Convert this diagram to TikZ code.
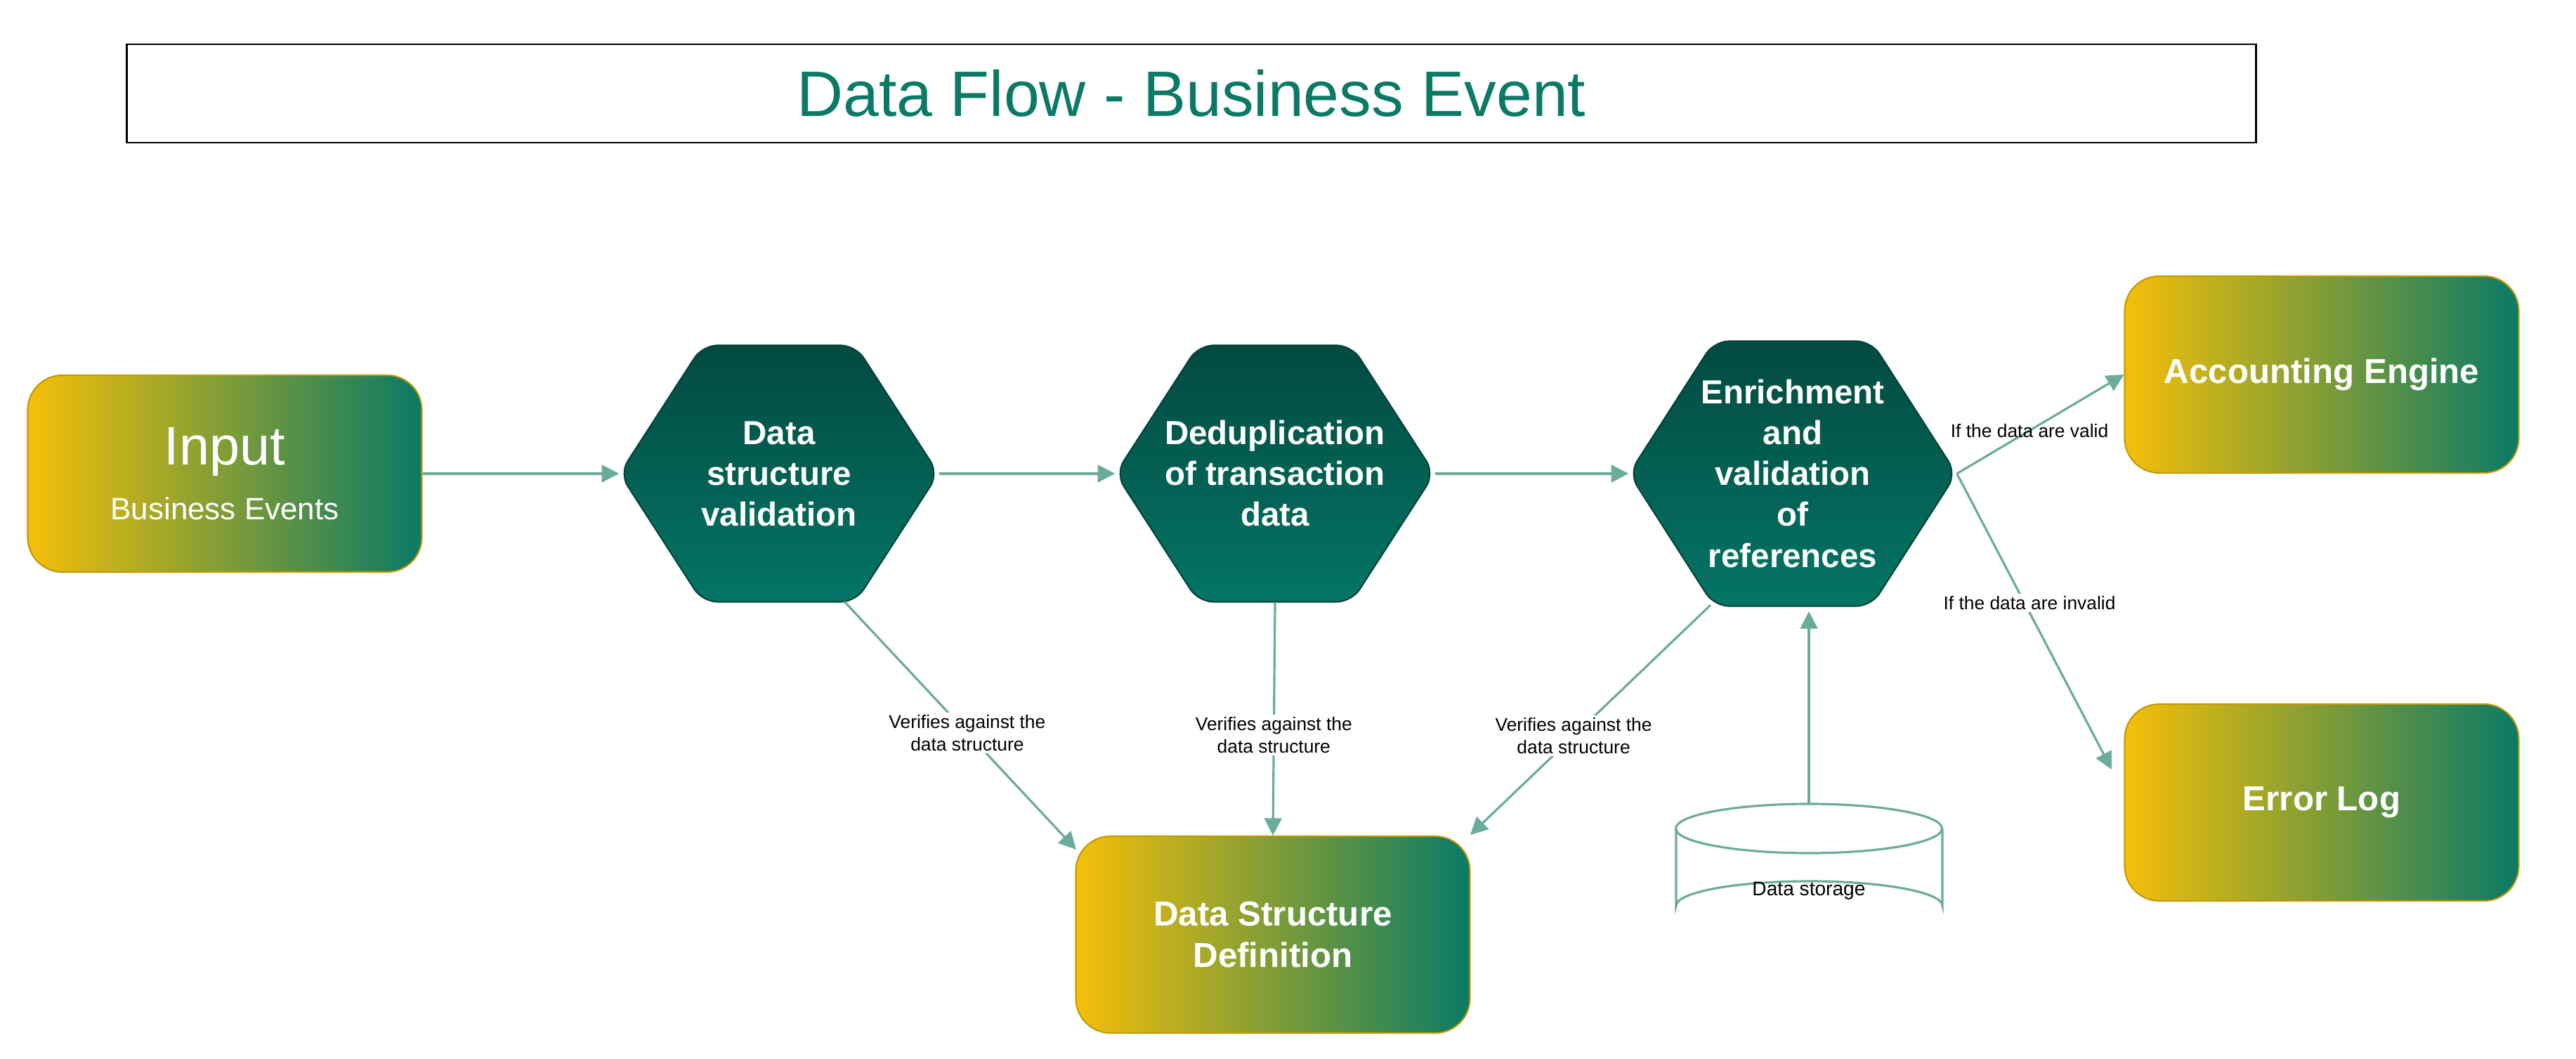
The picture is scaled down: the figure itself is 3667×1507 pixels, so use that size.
\documentclass[tikz,border=0pt]{standalone}
\usepackage{fontspec}
\setmainfont{Liberation Sans}
\usetikzlibrary{arrows.meta,calc,shapes.geometric}
\definecolor{teal}{HTML}{0A7A66}
\definecolor{yel}{HTML}{F5BF08}
\definecolor{hexd}{HTML}{034A40}
\definecolor{hexl}{HTML}{037566}
\definecolor{ln}{HTML}{6AAB9C}
\tikzset{
 box/.style={rounded corners=14pt,draw=yel!80!black,line width=0.6pt,left color=yel,right color=teal,minimum width=561*0.01cm,minimum height=280*0.01cm,text=white,font=\bfseries\fontsize{14}{17}\selectfont,align=center},
 hexn/.style={minimum width=454*0.01cm,minimum height=365*0.01cm,inner sep=0pt,text=white,font=\bfseries\fontsize{13.5}{16.5}\selectfont,align=center},
 hexs/.style={rounded corners=6pt,top color=hexd,bottom color=hexl,draw=hexd!90!black,line width=0.6pt},
 con/.style={draw=ln,line width=0.9pt,-{Triangle[length=7pt,width=7pt]}},
 lbl/.style={font=\fontsize{7.5}{9}\selectfont,align=center,fill=white,inner sep=1pt}
}
\newcommand{\hexpath}[1]{\path[hexs] (#1.west) -- ($(#1.north)+(-0.24*\wd0,0)$);}
\begin{document}
\begin{tikzpicture}[x=0.01cm,y=-0.01cm]
\useasboundingbox (0,0) rectangle (3667,1507);
\node[draw=black,line width=0.8pt,minimum width=3031*0.01cm,minimum height=140*0.01cm,text=teal,font=\fontsize{26}{30}\selectfont] (title) at (1696,133) {Data Flow - Business Event};
% input
\node[box,font=\fontsize{22}{24}\selectfont] (in) at (320,674) {Input\\[-2pt]{\fontsize{12.5}{14}\selectfont Business Events}};
% hexagons
\foreach \n/\x/\w/\h in {h1/1109/454/365, h2/1815/454/365, h3/2552/466/377}{
 \path[hexs] (\x-\w/2,674) -- (\x-0.24*\w,674-\h/2) -- (\x+0.24*\w,674-\h/2) -- (\x+\w/2,674) -- (\x+0.24*\w,674+\h/2) -- (\x-0.24*\w,674+\h/2) -- cycle;
}
\node[hexn] (h1) at (1109,674) {Data\\structure\\validation};
\node[hexn] (h2) at (1815,674) {Deduplication\\of transaction\\data};
\node[hexn,minimum width=466*0.01cm,minimum height=377*0.01cm] (h3) at (2552,674) {Enrichment\\and\\validation\\of\\references};
% boxes
\node[box] (acc) at (3305,533) {Accounting Engine};
\node[box] (err) at (3305,1142) {Error Log};
\node[box] (dsd) at (1812,1330) {Data Structure\\Definition};
% cylinder
\node[minimum width=379*0.01cm,minimum height=180*0.01cm,inner sep=0pt] (db) at (2575,1234) {};
\draw[ln,line width=0.9pt,fill=white] (2386,1179) -- (2386,1289) arc[start angle=180,end angle=360,x radius=189.5,y radius=35] -- (2765,1179);
\draw[ln,line width=0.9pt] (2575,1179) ellipse[x radius=189.5,y radius=35];
\node[font=\fontsize{8}{10}\selectfont] at (2575,1268) {Data storage};
\coordinate (dbtop) at (2575,1144);
% connectors
\draw[con] (in.east) -- (h1.west);
\draw[con] (h1.east) -- (h2.west);
\draw[con] (h2.east) -- (h3.west);
\coordinate (h1b) at (1202,856);
\coordinate (h3b) at (2435,861);
\coordinate (h3c) at (2575,870);
\coordinate (e1) at (1532,1209);
\coordinate (e3) at (2093,1188);
\coordinate (ee) at (3006,1095);
\draw[con] (h1b) -- node[lbl,pos=0.53]{Verifies against the\\data structure} (e1);
\draw[con] (h2.south) -- node[lbl,pos=0.57]{Verifies against the\\data structure} (dsd.north);
\draw[con] (h3b) -- node[lbl,pos=0.57]{Verifies against the\\data structure} (e3);
\draw[con] (dbtop) -- (h3c);
\draw[con] (h3.east) -- (acc.west);
\draw[con] (h3.east) -- (ee);
\node[lbl,fill=none] at (2889,613) {If the data are valid};
\node[lbl] at (2889,858) {If the data are invalid};
\end{tikzpicture}
\end{document}
